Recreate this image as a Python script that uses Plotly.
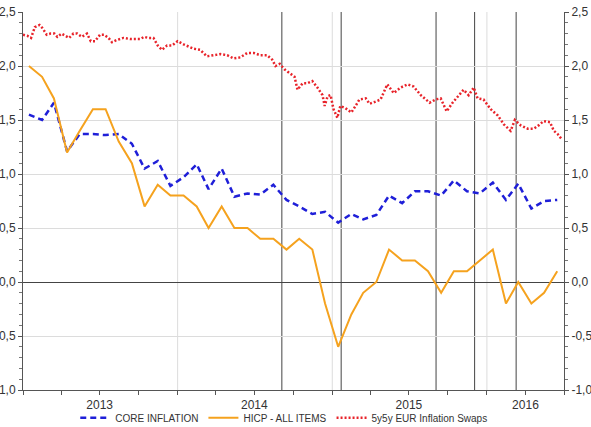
import pandas as pd
import plotly.graph_objects as go

# ---------------- data ----------------
month_start = "2013-01-01"
n_months = 42
core_inflation = [1.55, 1.50, 1.66, 1.21, 1.37, 1.37, 1.36, 1.37, 1.28, 1.05, 1.12, 0.89,
                  0.97, 1.09, 0.86, 1.05, 0.79, 0.82, 0.81, 0.90, 0.76, 0.70, 0.63, 0.65,
                  0.55, 0.63, 0.58, 0.62, 0.80, 0.73, 0.84, 0.84, 0.80, 0.94, 0.84, 0.82,
                  0.92, 0.76, 0.91, 0.68, 0.75, 0.76]
hicp_all = [2.0, 1.9, 1.7, 1.2, 1.4, 1.6, 1.6, 1.3, 1.1, 0.7, 0.9, 0.8,
            0.8, 0.7, 0.5, 0.7, 0.5, 0.5, 0.4, 0.4, 0.3, 0.4, 0.3, -0.2,
            -0.6, -0.3, -0.1, 0.0, 0.3, 0.2, 0.2, 0.1, -0.1, 0.1, 0.1, 0.2,
            0.3, -0.2, 0.0, -0.2, -0.1, 0.1]

swap_dates = ["2013-01-01", "2013-01-11", "2013-01-20", "2013-01-29", "2013-02-09", "2013-02-16",
              "2013-02-26", "2013-03-07", "2013-03-16", "2013-03-23", "2013-04-02", "2013-04-10",
              "2013-04-20", "2013-04-30", "2013-05-09", "2013-05-20", "2013-06-01", "2013-06-10",
              "2013-06-20", "2013-07-02", "2013-07-11", "2013-07-22", "2013-07-30", "2013-08-10",
              "2013-08-26", "2013-09-11", "2013-09-23", "2013-10-05", "2013-10-14", "2013-10-24",
              "2013-11-05", "2013-11-15", "2013-11-25", "2013-12-07", "2013-12-19", "2014-01-01",
              "2014-01-15", "2014-01-27", "2014-02-08", "2014-02-23", "2014-03-11", "2014-03-27",
              "2014-04-12", "2014-04-28", "2014-05-13", "2014-05-29", "2014-06-14", "2014-06-30",
              "2014-07-15", "2014-07-31", "2014-08-12", "2014-08-20", "2014-08-30", "2014-09-10",
              "2014-09-24", "2014-10-04", "2014-10-11", "2014-10-23", "2014-11-03", "2014-11-15",
              "2014-11-27", "2014-12-09", "2014-12-14", "2014-12-21", "2014-12-28", "2015-01-04",
              "2015-01-13", "2015-01-20", "2015-02-01", "2015-02-15", "2015-02-25", "2015-03-06",
              "2015-03-21", "2015-03-30", "2015-04-13", "2015-04-25", "2015-05-11", "2015-05-26",
              "2015-06-11", "2015-06-28", "2015-07-12", "2015-07-29", "2015-08-19", "2015-09-02",
              "2015-09-14", "2015-09-28", "2015-10-12", "2015-10-26", "2015-11-07", "2015-11-19",
              "2015-12-01", "2015-12-10", "2015-12-24", "2016-01-10", "2016-01-27", "2016-02-10",
              "2016-02-26", "2016-03-07", "2016-03-21", "2016-04-06", "2016-04-21", "2016-05-02",
              "2016-05-14", "2016-05-29", "2016-06-07", "2016-06-16", "2016-06-26"]
swap_values = [2.29, 2.28, 2.26, 2.36, 2.38, 2.35,
               2.29, 2.30, 2.30, 2.27, 2.30, 2.28,
               2.26, 2.30, 2.30, 2.27, 2.30, 2.23,
               2.23, 2.29, 2.29, 2.26, 2.22, 2.24,
               2.26, 2.25, 2.25, 2.25, 2.27, 2.26,
               2.26, 2.19, 2.15, 2.19, 2.19, 2.23,
               2.20, 2.18, 2.16, 2.15, 2.09, 2.10,
               2.11, 2.10, 2.07, 2.08, 2.12, 2.12,
               2.10, 2.10, 2.06, 2.00, 2.02, 1.97,
               1.93, 1.90, 1.78, 1.84, 1.84, 1.86,
               1.80, 1.73, 1.63, 1.72, 1.73, 1.60,
               1.52, 1.63, 1.61, 1.57, 1.63, 1.69,
               1.70, 1.65, 1.67, 1.69, 1.83, 1.75,
               1.80, 1.83, 1.81, 1.73, 1.66, 1.69,
               1.70, 1.58, 1.66, 1.73, 1.78, 1.73,
               1.80, 1.70, 1.69, 1.60, 1.54, 1.46,
               1.40, 1.50, 1.45, 1.42, 1.42, 1.45,
               1.49, 1.48, 1.40, 1.37, 1.32]

year_starts = ["2014-01-01", "2015-01-01", "2016-01-01"]
event_dates = ["2014-09-04", "2015-01-22", "2015-09-03", "2015-12-03", "2016-03-10"]
year_label_pos = ["2013-07-01", "2014-07-01", "2015-07-01", "2016-04-01"]
year_labels = ["2013", "2014", "2015", "2016"]
y_tick_vals = [-1.0, -0.5, 0.0, 0.5, 1.0, 1.5, 2.0, 2.5]
y_tick_text = ["-1,0", "-0,5", "0,0", "0,5", "1,0", "1,5", "2,0", "2,5"]
x_range = ["2013-01-01", "2016-07-01"]
y_range = [-1.0, 2.5]

# ---------------- figure ----------------
months = pd.date_range(month_start, periods=n_months, freq="MS") + pd.Timedelta(days=14)

fig = go.Figure()
fig.add_trace(go.Scatter(x=months, y=core_inflation, name="CORE INFLATION", mode="lines",
                         line=dict(color="#1f1fd8", width=2.5, dash="6px,4px")))
fig.add_trace(go.Scatter(x=months, y=hicp_all, name="HICP - ALL ITEMS", mode="lines",
                         line=dict(color="#f5a21e", width=2)))
fig.add_trace(go.Scatter(x=swap_dates, y=swap_values, name="5y5y EUR Inflation Swaps", mode="lines",
                         line=dict(color="#e8232a", width=2.5, dash="2px,2px")))
fig.add_trace(go.Scatter(x=[None], y=[None], yaxis="y2", showlegend=False, hoverinfo="skip"))

shapes = []
for d in year_starts:
    shapes.append(dict(type="line", xref="x", yref="paper", x0=d, x1=d, y0=0, y1=1,
                       line=dict(color="#dcdcdc", width=1), layer="below"))
for d in event_dates:
    shapes.append(dict(type="line", xref="x", yref="paper", x0=d, x1=d, y0=0, y1=1,
                       line=dict(color="#444444", width=1), layer="below"))

axis_font = dict(family="Liberation Sans, Arial, sans-serif", size=12, color="#333333")
yaxis_common = dict(range=y_range, tickvals=y_tick_vals, ticktext=y_tick_text, showline=True,
                    linecolor="#555555", linewidth=1, ticks="outside", ticklen=4,
                    tickcolor="#555555", tickfont=axis_font, automargin=False,
                    minor=dict(dtick=0.1, tick0=0, ticks="outside", ticklen=3,
                               tickcolor="#777777", showgrid=False))

fig.update_layout(
    width=591, height=427,
    margin=dict(l=23, r=27, t=12, b=37, autoexpand=False),
    paper_bgcolor="white", plot_bgcolor="white",
    shapes=shapes,
    showlegend=True,
    legend=dict(orientation="h", x=0.482, xanchor="center", y=-0.035, yanchor="top",
                bgcolor="rgba(0,0,0,0)",
                font=dict(family="Liberation Sans, Arial, sans-serif", size=10, color="#333333"),
                itemwidth=30, tracegroupgap=0),
    xaxis=dict(type="date", range=x_range, tickvals=year_label_pos, ticktext=year_labels,
               showgrid=False, showline=True, linecolor="#555555", linewidth=1,
               ticks="outside", ticklen=4, tickcolor="#555555", tickfont=axis_font,
               automargin=False,
               minor=dict(dtick="M3", tick0="2013-01-01", ticks="outside", ticklen=4,
                          tickcolor="#555555", showgrid=False)),
    yaxis=dict(**yaxis_common, side="left", showgrid=True, gridcolor="#dcdcdc", gridwidth=1,
               zeroline=True, zerolinecolor="#444444", zerolinewidth=1),
    yaxis2=dict(**yaxis_common, side="right", overlaying="y", showgrid=False, zeroline=False),
)

fig.write_html("out.html")
